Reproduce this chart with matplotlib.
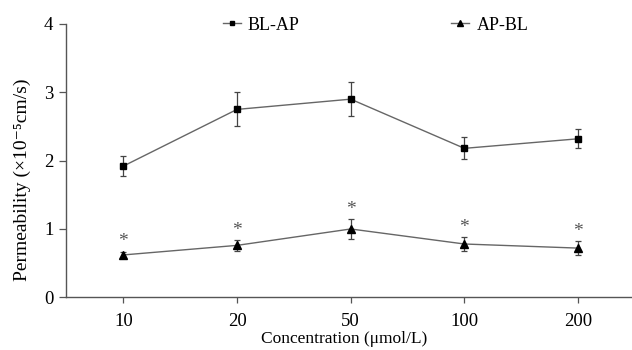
import matplotlib
matplotlib.use("Agg")
import matplotlib.pyplot as plt
from matplotlib.lines import Line2D
import numpy as np

categories = ["10", "20", "50", "100", "200"]
bl_ap = [1.92, 2.75, 2.90, 2.18, 2.32]
bl_ap_err = [0.15, 0.25, 0.25, 0.16, 0.14]
ap_bl = [0.62, 0.76, 1.00, 0.78, 0.72]
ap_bl_err = [0.05, 0.08, 0.14, 0.10, 0.10]
sig = ["*", "*", "*", "*", "*"]
yticks = [0, 1, 2, 3, 4]

plt.rcParams['font.family'] = ['Liberation Serif', 'DejaVu Serif']

fig = plt.figure(figsize=(6.32, 3.5), dpi=100)
ax = fig.add_axes([66/632, 1-297.3/350, 1-66/632, (297.3-24)/350])

x = np.arange(len(categories))
line_c = "#666666"
ax.errorbar(x, bl_ap, yerr=bl_ap_err, color=line_c, lw=1.0, marker='s', ms=5,
            mfc='black', mec='black', ecolor='#444444', elinewidth=0.9, capsize=2.5,
            capthick=0.9)
ax.errorbar(x, ap_bl, yerr=ap_bl_err, color=line_c, lw=1.0, marker='^', ms=6,
            mfc='black', mec='black', ecolor='#444444', elinewidth=0.9, capsize=2.5,
            capthick=0.9)
for xi, v, e, s in zip(x, ap_bl, ap_bl_err, sig):
    ax.text(xi, v + e + 0.14, s, ha='center', va='center', fontsize=14, color='#555555')

ax.set_xlim(-0.504, 4.474)
ax.set_ylim(0, 4)
ax.set_xticks(x)
ax.set_xticklabels(categories)
ax.set_yticks(yticks)
ax.tick_params(axis='both', labelsize=13.5, direction='out', width=0.9, color='#555555')
ax.tick_params(axis='y', length=5, pad=4)
ax.tick_params(axis='x', length=4, pad=7)
for s in ['top', 'right']:
    ax.spines[s].set_visible(False)
for s in ['left', 'bottom']:
    ax.spines[s].set_color('#555555')
    ax.spines[s].set_linewidth(1.0)

ax.set_xlabel("Concentration (μmol/L)", fontsize=12.5)
ax.xaxis.set_label_coords(0.491, -0.125)
ax.set_ylabel("Permeability (×10⁻⁵cm/s)", fontsize=14)
ax.yaxis.set_label_coords(-0.062, 0.429)

handles = [
    Line2D([], [], color=line_c, lw=1.0, marker='s', ms=3.5, mfc='black', mec='black'),
    Line2D([], [], color=line_c, lw=1.0, marker='^', ms=4.5, mfc='black', mec='black'),
]
leg = ax.legend(handles, ["BL-AP", "AP-BL"], loc='center', bbox_to_anchor=(0.547, 0.996),
                ncol=2, frameon=False, fontsize=13, handlelength=1.0,
                columnspacing=8.4, handletextpad=0.4, borderaxespad=0)

fig.savefig("out.png", dpi=100)
